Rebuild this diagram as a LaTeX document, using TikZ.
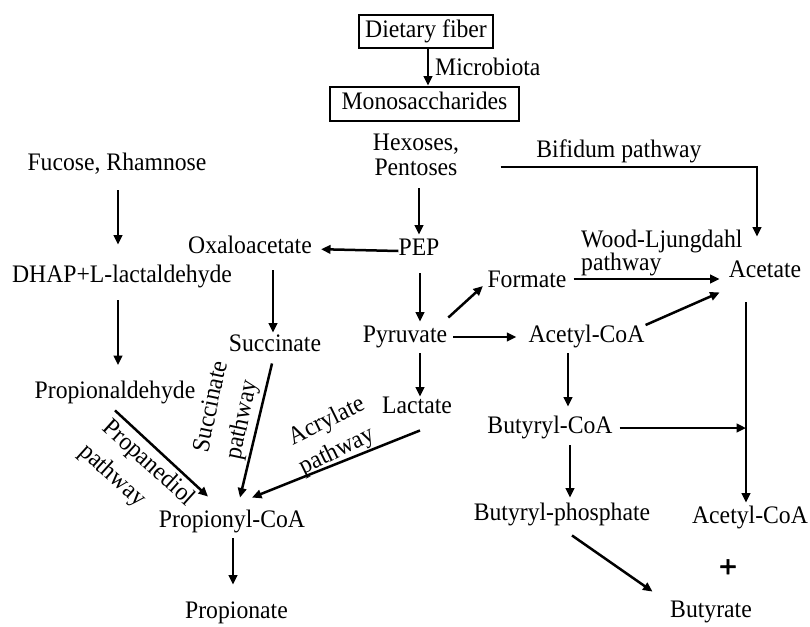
\documentclass[tikz,border=0pt]{standalone}
\usepackage{fontspec}
\setmainfont[FakeStretch=0.94]{Liberation Serif}
\newfontfamily\plusfont[FakeBold=2]{Liberation Sans}
\usetikzlibrary{arrows.meta}
\begin{document}
\begin{tikzpicture}[x=1pt,y=-1pt,
  lab/.style={inner sep=0pt, text height=16.5pt, text depth=5pt, font=\fontsize{25.2}{26}\selectfont},
  boxn/.style={lab, draw, line width=2.8pt},
  arr/.style={line width=2.5pt, -{Triangle[length=9.5pt,width=8.5pt]}}]
\useasboundingbox (0,0) rectangle (810,626);
% nodes
\node[boxn, minimum width=134pt, minimum height=33pt] (fiber) at (426,31.5) {Dietary fiber};
\node[boxn, minimum width=189pt, minimum height=34pt] (mono) at (424.5,104) {Monosaccharides};
\node[lab, anchor=west] (micro) at (435,70) {Microbiota};
\node[lab] (hex1) at (416,145) {Hexoses,};
\node[lab] (hex2) at (416,170) {Pentoses};
\node[lab] (bifi) at (619,152) {Bifidum pathway};
\node[lab] (fuc) at (117,165) {Fucose, Rhamnose};
\node[lab] (dhap) at (122,277) {DHAP+L-lactaldehyde};
\node[lab] (prald) at (115,393) {Propionaldehyde};
\node[lab] (oxa) at (250,248) {Oxaloacetate};
\node[lab] (pep) at (419,250) {PEP};
\node[lab] (suc) at (275,346) {Succinate};
\node[lab] (pyr) at (405,337) {Pyruvate};
\node[lab] (form) at (527,282) {Formate};
\node[lab] (acet) at (765,272) {Acetate};
\node[lab, anchor=west] (wl1) at (581,242) {Wood-Ljungdahl};
\node[lab, anchor=west] (wl2) at (581,265) {pathway};
\node[lab] (acoa1) at (586.5,337) {Acetyl-CoA};
\node[lab] (lac) at (417,408) {Lactate};
\node[lab] (bcoa) at (550,428) {Butyryl-CoA};
\node[lab] (bph) at (562,515) {Butyryl-phosphate};
\node[lab] (acoa2) at (750,518) {Acetyl-CoA};
\node[inner sep=0pt, font=\fontsize{30}{30}\plusfont] (plus) at (728,568) {+};
\node[lab] (buty) at (711,612) {Butyrate};
\node[lab] (pcoa) at (232,522) {Propionyl-CoA};
\node[lab] (prate) at (236.5,613) {Propionate};
% rotated labels
\node[lab, rotate=-42] (pd1) at (148,464) {Propanediol};
\node[lab, rotate=-42] (pd2) at (112,476) {pathway};
\node[lab, rotate=78] (sp1) at (212,407) {Succinate};
\node[lab, rotate=78] (sp2) at (243,420) {pathway};
\node[lab, rotate=26] (ap1) at (327,422) {Acrylate};
\node[lab, rotate=26] (ap2) at (337,452) {pathway};
% connectors
\draw[arr] ([xshift=2pt]fiber.south) -- ([xshift=3.5pt]mono.north);
\draw[arr, shorten <=7.5pt, shorten >=4.5pt] ([xshift=3pt]hex2.south) -- (pep.north);
\draw[arr, shorten >=9pt] ([yshift=-1pt]pep.west) -- ([yshift=-1pt]oxa.east);
\draw[arr] ([xshift=43pt,yshift=3pt]hex2.east) -| ([xshift=-8pt,yshift=24.5pt]acet.north);
\draw[arr, shorten <=14.5pt, shorten >=21.5pt] ([xshift=1pt]fuc.south) -- ([xshift=-4pt]dhap.north);
\draw[arr, shorten <=12.5pt, shorten >=17pt] ([xshift=-4pt]dhap.south) -- ([xshift=3pt]prald.north);
\draw[arr, shorten <=11.5pt, shorten >=2.5pt] ([xshift=23pt]oxa.south) -- ([xshift=-2pt]suc.north);
\draw[arr, shorten <=12.5pt, shorten >=4.5pt] ([xshift=1pt]pep.south) -- ([xshift=15pt]pyr.north);
\draw[arr, shorten >=6pt] ([xshift=1pt,yshift=8.5pt]pyr.north east) -- (form.west);
\draw[arr, shorten <=7pt, shorten >=9pt] ([yshift=3pt]form.east) -- ([yshift=-7pt]acet.west);
\draw[arr, shorten <=6pt, shorten >=12pt] (pyr.east) -- (acoa1.west);
\draw[arr] ([xshift=1pt,yshift=12pt]acoa1.east) -- ([xshift=-9pt,yshift=-9.5pt]acet.south west);
\coordinate (vtop) at ([xshift=-19pt,yshift=-19.5pt]acet.south);
\draw[arr, shorten >=4.5pt] (vtop) -- ([xshift=-4pt]acoa2.north);
\draw[arr, shorten <=5.5pt, shorten >=10.5pt] ([xshift=-18.5pt]acoa1.south) -- ([xshift=18pt]bcoa.north);
\draw[arr, shorten <=7pt] (bcoa.east) -- (bcoa.east -| vtop);
\draw[arr, shorten <=6.5pt, shorten >=6.5pt] ([xshift=20pt]bcoa.south) -- ([xshift=8pt]bph.north);
\draw[arr] ([xshift=10pt,yshift=-9.5pt]bph.south) -- ([xshift=-17.5pt,yshift=9.5pt]buty.north west);
\draw[arr, shorten <=5.5pt, shorten >=0.5pt] ([xshift=15pt]pyr.south) -- ([xshift=3pt]lac.north);
\draw[arr] ([xshift=3pt,yshift=-11.5pt]lac.south) -- ([xshift=20pt,yshift=13.5pt]pcoa.north);
\draw[arr] ([xshift=-3pt,yshift=-6.5pt]suc.south) -- ([xshift=8pt,yshift=13.5pt]pcoa.north);
\draw[arr] ([yshift=-6.5pt]prald.south) -- ([xshift=-24pt,yshift=14.5pt]pcoa.north);
\draw[arr, shorten <=5.5pt, shorten >=17.5pt] ([xshift=1pt]pcoa.south) -- ([xshift=-3.5pt]prate.north);
\end{tikzpicture}
\end{document}
